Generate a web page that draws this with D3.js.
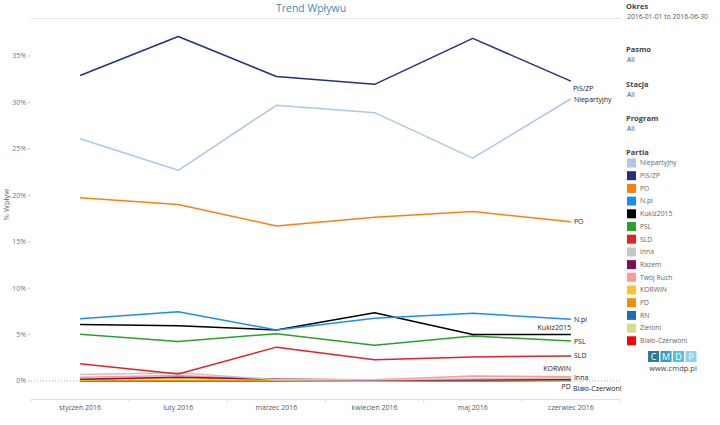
<!DOCTYPE html>
<html><head><meta charset="utf-8">
<script src="https://cdn.jsdelivr.net/npm/d3@7"></script>
<style>
body{margin:0;background:#fff;}
svg{font-family:"Open Sans","Segoe UI",sans-serif;}
</style></head><body>
<svg id="c" width="720" height="425"></svg>
<script>
const months = ["styczeń 2016","luty 2016","marzec 2016","kwiecień 2016","maj 2016","czerwiec 2016"];
const parties = ["Niepartyjny","PiS/ZP","PO","N.pl","Kukiz2015","PSL","SLD","Inna","Razem","Twój Ruch","KORWIN","PD","RN","Zieloni","Biało-Czerwoni"];
const colors = ["#aec7e8","#24317a","#ff7f0e","#1a8cff","#000000","#2ca02c","#e4212b","#c7c7c7","#7b0f5a","#ff9896","#fdc52b","#f28e00","#1f6fb0","#dbdb8d","#ff0000"];
const yTicks = [0,5,10,15,20,25,30,35];

const vNiepartyjny = [26.1,22.7,29.7,28.9,24.0,30.4];
const vPiS = [32.9,37.1,32.8,31.95,36.9,32.3];
const vPO = [19.75,19.0,16.7,17.65,18.25,17.15];
const vNpl = [6.7,7.45,5.5,6.75,7.3,6.65];
const vKukiz = [6.1,5.95,5.5,7.35,5.0,5.0];
const vPSL = [5.05,4.25,5.1,3.85,4.85,4.3];
const vSLD = [1.85,0.75,3.65,2.3,2.6,2.7];
const vInna = [0.7,0.9,0.15,0.15,0.25,0.3];
const vRazem = [0.2,0.4,0.2,0.1,0.1,0.2];
const vTwojRuch = [0.4,0.6,0.2,0.15,0.55,0.45];
const vKORWIN = [0.1,0.35,0.1,0.1,0.05,0.35];
const vPD = [0.05,0.05,0.1,0.1,0.05,0.15];
const vRN = [0.0,0.0,0.05,0.05,0.0,0.05];
const vZieloni = [0.0,0.0,0.05,0.0,0.0,0.05];
const vBialoCzerwoni = [0.0,0.0,0.0,0.05,0.05,0.1];

const seriesValues = [vNiepartyjny,vPiS,vPO,vNpl,vKukiz,vPSL,vSLD,vInna,vRazem,vTwojRuch,vKORWIN,vPD,vRN,vZieloni,vBialoCzerwoni];

// end-label placement (styling only)
const endLabels = {
  "PiS/ZP":{dx:2,dy:7,anchor:"start"},
  "Niepartyjny":{dx:3,dy:1,anchor:"start"},
  "PO":{dx:3,dy:0,anchor:"start"},
  "N.pl":{dx:3,dy:0,anchor:"start"},
  "Kukiz2015":{dx:0,dy:-7,anchor:"end"},
  "PSL":{dx:3,dy:0,anchor:"start"},
  "SLD":{dx:3,dy:0,anchor:"start"},
  "KORWIN":{dx:0,dy:-9,anchor:"end"},
  "Inna":{dx:3,dy:-1,anchor:"start"},
  "PD":{dx:0,dy:7,anchor:"end"},
  "Biało-Czerwoni":{dx:2,dy:8,anchor:"start"}
};

const svg = d3.select("#c");
const x = d3.scaleBand().domain(months).range([31,620]);
const y = d3.scaleLinear().domain([-2,39]).range([399.6,18.9]);

// title + underline
svg.append("text").attr("x",311).attr("y",12).attr("text-anchor","middle")
  .attr("font-size",10.5).attr("fill","#3a8db5").text("Trend Wpływu");
svg.append("line").attr("x1",31).attr("x2",620).attr("y1",18.5).attr("y2",18.5)
  .attr("stroke","#e3e3e3").attr("stroke-width",1);

// y axis labels
const yg = svg.append("g");
yTicks.forEach(t=>{
  yg.append("text").attr("x",26).attr("y",y(t)).attr("dy","0.35em").attr("text-anchor","end")
    .attr("font-size",7).attr("fill","#777").text(t+"%");
  yg.append("line").attr("x1",28).attr("x2",30).attr("y1",y(t)).attr("y2",y(t)).attr("stroke","#bbb");
});
svg.append("text").attr("transform",`translate(9,${y(19)}) rotate(-90)`).attr("text-anchor","middle")
  .attr("font-size",7.5).attr("fill","#666").text("% Wpływ");

// zero line
svg.append("line").attr("x1",31).attr("x2",620).attr("y1",y(0)).attr("y2",y(0))
  .attr("stroke","#999").attr("stroke-dasharray","1,2").attr("stroke-width",0.8);

// x axis
const xg = svg.append("g").attr("transform",`translate(0,${y(-2)})`);
xg.append("line").attr("x1",31).attr("x2",620).attr("stroke","#ddd");
const edges = months.map(m=>x(m)).concat([x.range()[1]]);
edges.forEach(e=>xg.append("line").attr("x1",e).attr("x2",e).attr("y1",0).attr("y2",3).attr("stroke","#ddd"));
months.forEach(m=>xg.append("text").attr("x",x(m)+x.bandwidth()/2).attr("y",10).attr("text-anchor","middle")
  .attr("font-size",7).attr("fill","#555").text(m));

// lines (draw small ones first, big later; reverse order)
const line = d3.line().x((d,i)=>x(months[i])+x.bandwidth()/2).y(d=>y(d));
const order = d3.range(parties.length).reverse();
order.forEach(i=>{
  svg.append("path").datum(seriesValues[i]).attr("d",line).attr("fill","none")
    .attr("stroke",colors[i]).attr("stroke-width",1.5).attr("stroke-linejoin","round");
});

// end labels
parties.forEach((p,i)=>{
  const cfg = endLabels[p]; if(!cfg) return;
  const v = seriesValues[i][months.length-1];
  svg.append("text").attr("x",x(months[5])+x.bandwidth()/2+cfg.dx).attr("y",y(v)+cfg.dy)
    .attr("dy","0.35em").attr("text-anchor",cfg.anchor).attr("font-size",7).attr("fill","#222").text(p);
});

// right panel
const panel = [["Okres","2016-01-01 to 2016-06-30",6],["Pasmo","All",49],["Stacja","All",84],["Program","All",118]];
panel.forEach(([h,v,yy])=>{
  svg.append("text").attr("x",626).attr("y",yy+3).attr("font-size",7.5).attr("font-weight","bold").attr("fill","#444").text(h);
  svg.append("text").attr("x",627).attr("y",yy+13).attr("font-size",6.8).attr("fill","#555").text(v);
});
svg.append("text").attr("x",626).attr("y",155).attr("font-size",7.5).attr("font-weight","bold").attr("fill","#444").text("Partia");
parties.forEach((p,i)=>{
  const yy = 158.5 + i*12.7;
  svg.append("rect").attr("x",627).attr("y",yy).attr("width",9).attr("height",9).attr("fill",colors[i]);
  svg.append("text").attr("x",640).attr("y",yy+4.5).attr("dy","0.35em").attr("font-size",6.8).attr("fill","#666").text(p);
});

// CMDP logo
const logo = [["C","#2b7a98"],["M","#3a9cc0"],["D","#5bbde0"],["P","#8fd2ec"]];
logo.forEach(([l,c],i)=>{
  svg.append("rect").attr("x",648+i*12.5).attr("y",351).attr("width",11).attr("height",11).attr("fill",c);
  svg.append("text").attr("x",648+i*12.5+5.5).attr("y",356.5).attr("dy","0.36em").attr("text-anchor","middle")
    .attr("font-size",9).attr("fill","#fff").text(l);
});
svg.append("text").attr("x",673).attr("y",371).attr("text-anchor","middle").attr("font-size",7.5).attr("fill","#444").text("www.cmdp.pl");
</script></body></html>
